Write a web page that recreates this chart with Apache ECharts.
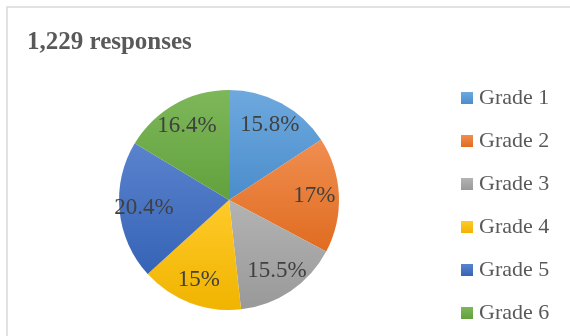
<!DOCTYPE html>
<html>
<head>
<meta charset="utf-8">
<script src="https://cdn.jsdelivr.net/npm/echarts@6/dist/echarts.min.js"></script>
<style>
  html, body { margin: 0; padding: 0; background: #fff; }
  #chart { width: 570px; height: 336px; }
</style>
</head>
<body>
<div id="chart"></div>
<script>
// data
const grades = ['Grade 1', 'Grade 2', 'Grade 3', 'Grade 4', 'Grade 5', 'Grade 6'];
const shares = [15.8, 17, 15.5, 15, 20.4, 16.4];
const topColors = ['#6ea9de', '#f08e50', '#b3b3b3', '#ffca2a', '#5a83cd', '#7db75a'];
const bottomColors = ['#4a8dcc', '#e06c20', '#999999', '#f0b400', '#3663b6', '#62a13d'];

const cx = 229, cy = 200, r = 110;

const chart = echarts.init(document.getElementById('chart'));

const data = grades.map((g, i) => ({
    name: g,
    value: shares[i],
    itemStyle: {
        color: new echarts.graphic.LinearGradient(0, 0, 0, 1, [
            { offset: 0, color: topColors[i] },
            { offset: 1, color: bottomColors[i] }
        ])
    }
}))

const option = {
    animation: false,
    backgroundColor: '#fff',
    color: bottomColors,
    title: {
        text: '1,229 responses',
        left: 22,
        top: 25,
        textStyle: {
            fontFamily: 'Liberation Serif',
            fontWeight: 'bold',
            fontSize: 25,
            color: '#595959'
        }
    },
    legend: {
        orient: 'vertical',
        left: 456,
        top: 82,
        itemWidth: 12,
        itemHeight: 12,
        itemGap: 21,
        icon: 'rect',
        data: grades,
        textStyle: {
            fontFamily: 'Liberation Serif',
            fontSize: 22,
            lineHeight: 22,
            color: '#595959',
            padding: [0, 0, 0, 1]
        }
    },
    graphic: [{
        type: 'rect',
        silent: true,
        shape: { x: 7, y: 7, width: 700, height: 500 },
        style: { fill: 'none', stroke: '#d9d9d9', lineWidth: 1.5 }
    }],
    series: [
        {
            type: 'pie',
            center: [cx, cy],
            radius: [0, r],
            startAngle: 90,
            clockwise: true,
            label: { show: false },
            labelLine: { show: false },
            emphasis: { disabled: true },
            data: data
        },
        {
            // transparent ring only used to place labels at ~3/4 of the radius
            type: 'pie',
            center: [cx, cy],
            radius: [r / 2, r],
            startAngle: 90,
            clockwise: true,
            silent: true,
            itemStyle: { color: 'rgba(0,0,0,0)' },
            label: {
                show: true,
                position: 'inside',
                formatter: p => p.value + '%',
                fontFamily: 'Liberation Serif',
                fontSize: 23,
                color: '#404040'
            },
            labelLine: { show: false },
            emphasis: { disabled: true },
            data: grades.map((g, i) => ({ name: g, value: shares[i] }))
        }
    ]
}

chart.setOption(option);
</script>
</body>
</html>
